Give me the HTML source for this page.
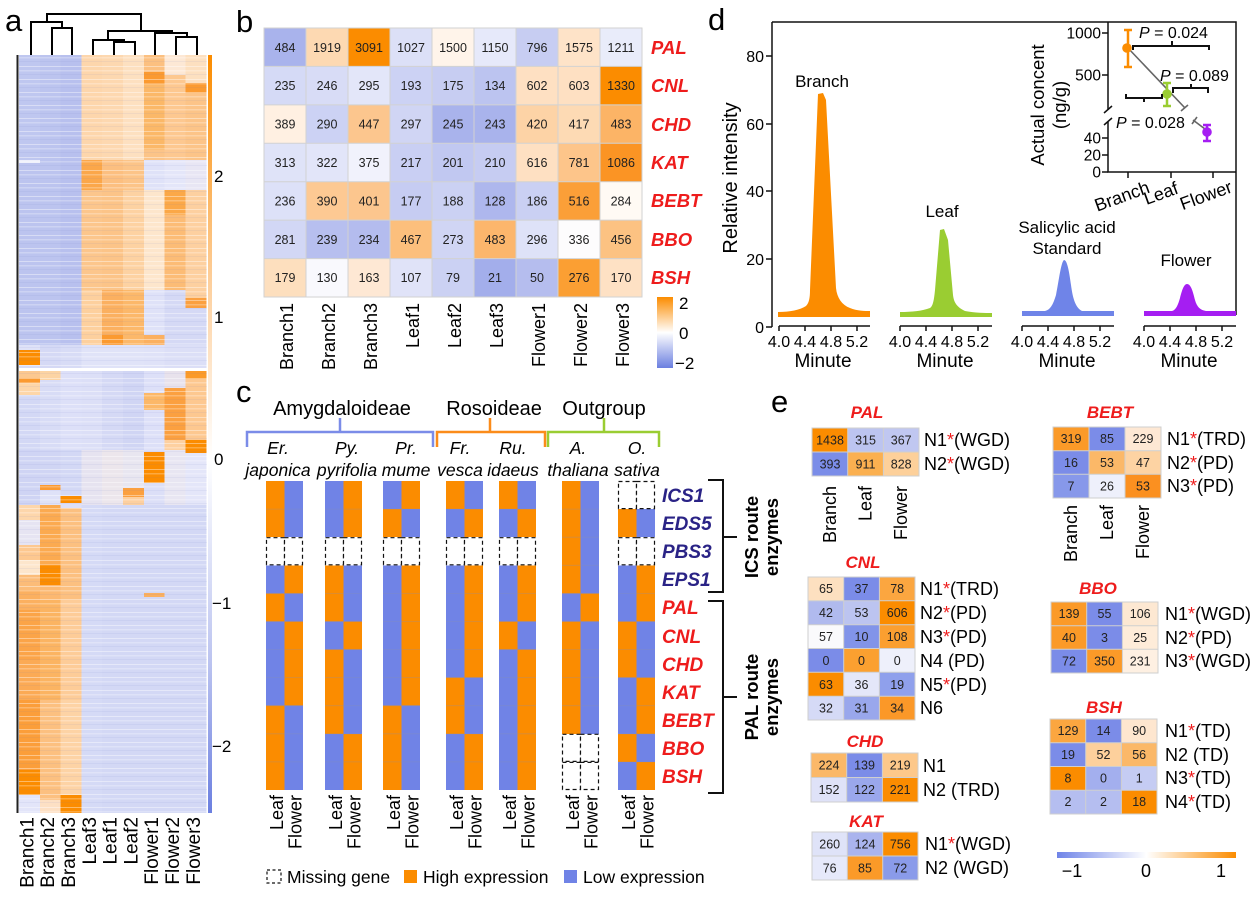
<!DOCTYPE html>
<html><head><meta charset="utf-8"><style>
html,body{margin:0;padding:0;background:#fff;}
svg{display:block;font-family:"Liberation Sans",Arial,sans-serif;}
</style></head><body>
<svg width="1256" height="902" viewBox="0 0 1256 902" xmlns="http://www.w3.org/2000/svg">
<defs>
<pattern id="tex" width="21" height="13" patternUnits="userSpaceOnUse">
<rect y="1" width="21" height="1" fill="#fff" opacity="0.4"/>
<rect y="5" width="21" height="1.5" fill="#fff" opacity="0.25"/>
<rect y="9" width="21" height="1" fill="#6070c0" opacity="0.08"/>
</pattern>
<linearGradient id="cbA" x1="0" y1="0" x2="0" y2="1">
<stop offset="0" stop-color="#fb8c00"/><stop offset="0.3" stop-color="#fdcf9c"/><stop offset="0.534" stop-color="#ffffff"/><stop offset="0.8" stop-color="#bcc4f0"/><stop offset="1" stop-color="#6b7fe0"/>
</linearGradient>
<linearGradient id="cbB" x1="0" y1="0" x2="0" y2="1">
<stop offset="0" stop-color="#fb8c00"/><stop offset="0.5" stop-color="#ffffff"/><stop offset="1" stop-color="#6b7fe0"/>
</linearGradient>
<linearGradient id="cbE" x1="0" y1="0" x2="1" y2="0">
<stop offset="0" stop-color="#6f84e8"/><stop offset="0.5" stop-color="#ffffff"/><stop offset="1" stop-color="#fb8c00"/>
</linearGradient>
</defs>

<!-- ================= PANEL A ================= -->
<text x="5" y="31" font-size="31">a</text>
<g stroke="#000" stroke-width="2" fill="none">
<path d="M47,22 V14 H141 V31"/>
<path d="M31,55 V22 H62 V28"/>
<path d="M52,55 V28 H72 V55"/>
<path d="M108,40 V31 H172 V33"/>
<path d="M93,55 V40 H124 V42"/>
<path d="M114,55 V42 H135 V55"/>
<path d="M155,55 V33 H187 V37"/>
<path d="M176,55 V37 H197 V55"/>
</g>
<g shape-rendering="crispEdges">
<!-- col0 -->
<g transform="translate(19,0)">
<rect y="55" width="20.9" height="105" fill="#bfc7f0"/><rect y="160" width="20.9" height="3" fill="#eef0fb"/><rect y="163" width="20.9" height="182" fill="#bcc4ef"/><rect y="345" width="20.9" height="5" fill="#dfe2f8"/><rect y="350" width="20.9" height="15" fill="#fb8c00"/><rect y="365" width="20.9" height="3" fill="#d8dcf6"/>
<rect y="371" width="20.9" height="7" fill="#fcc890"/><rect y="378" width="20.9" height="5" fill="#fb9a30"/><rect y="383" width="20.9" height="12" fill="#fdd6a8"/><rect y="395" width="20.9" height="55" fill="#d3d8f5"/><rect y="450" width="20.9" height="55" fill="#cfd4f4"/><rect y="505" width="20.9" height="15" fill="#fdd6ab"/><rect y="520" width="20.9" height="25" fill="#e6e4f2"/><rect y="545" width="20.9" height="15" fill="#fdc890"/><rect y="560" width="20.9" height="15" fill="#fde6cc"/><rect y="575" width="20.9" height="15" fill="#fcbc78"/><rect y="590" width="20.9" height="20" fill="#fbb060"/><rect y="610" width="20.9" height="50" fill="#fba448"/><rect y="660" width="20.9" height="40" fill="#fbaa55"/><rect y="700" width="20.9" height="70" fill="#fb9e3a"/><rect y="770" width="20.9" height="25" fill="#fb8c00"/><rect y="795" width="20.9" height="18" fill="#e3e5f9"/>
</g>
<!-- col1 -->
<g transform="translate(39.8,0)">
<rect y="55" width="20.9" height="290" fill="#bcc4ef"/><rect y="345" width="20.9" height="23" fill="#d5d9f5"/>
<rect y="371" width="20.9" height="9" fill="#fcd4a4"/><rect y="380" width="20.9" height="70" fill="#d8dcf6"/><rect y="450" width="20.9" height="35" fill="#d0d5f4"/><rect y="485" width="20.9" height="5" fill="#fb9a30"/><rect y="490" width="20.9" height="15" fill="#dfe2f8"/><rect y="505" width="20.9" height="60" fill="#fbaa50"/><rect y="565" width="20.9" height="20" fill="#fb8c00"/><rect y="585" width="20.9" height="15" fill="#fcb870"/><rect y="600" width="20.9" height="100" fill="#fbb462"/><rect y="700" width="20.9" height="100" fill="#fcc080"/><rect y="800" width="20.9" height="13" fill="#fde0c4"/>
</g>
<!-- col2 -->
<g transform="translate(60.6,0)">
<rect y="55" width="20.9" height="290" fill="#b8c0ee"/><rect y="345" width="20.9" height="23" fill="#d8dcf6"/>
<rect y="371" width="20.9" height="79" fill="#dde0f8"/><rect y="450" width="20.9" height="46" fill="#d3d8f5"/><rect y="496" width="20.9" height="7" fill="#fb8c00"/><rect y="503" width="20.9" height="5" fill="#dde0f8"/><rect y="508" width="20.9" height="92" fill="#fcc080"/><rect y="600" width="20.9" height="100" fill="#fdcc98"/><rect y="700" width="20.9" height="95" fill="#fdd3a5"/><rect y="795" width="20.9" height="18" fill="#fb8c00"/>
</g>
<!-- col3 -->
<g transform="translate(81.4,0)">
<rect y="55" width="20.9" height="105" fill="#fdd6ac"/><rect y="160" width="20.9" height="30" fill="#fba74a"/><rect y="190" width="20.9" height="100" fill="#fcc68c"/><rect y="290" width="20.9" height="55" fill="#fdd09e"/><rect y="345" width="20.9" height="23" fill="#e0e3f8"/>
<rect y="371" width="20.9" height="79" fill="#dcdff7"/><rect y="450" width="20.9" height="55" fill="#e6e3f0"/><rect y="505" width="20.9" height="308" fill="#d5daf6"/>
</g>
<!-- col4 -->
<g transform="translate(102.2,0)">
<rect y="55" width="20.9" height="105" fill="#fdd8b0"/><rect y="160" width="20.9" height="30" fill="#fcbf80"/><rect y="190" width="20.9" height="100" fill="#fcc488"/><rect y="290" width="20.9" height="45" fill="#fbb060"/><rect y="335" width="20.9" height="10" fill="#fb9a30"/><rect y="345" width="20.9" height="23" fill="#e0e3f8"/>
<rect y="371" width="20.9" height="79" fill="#d5d9f5"/><rect y="450" width="20.9" height="55" fill="#ece6ec"/><rect y="505" width="20.9" height="308" fill="#d3d8f5"/>
</g>
<!-- col5 -->
<g transform="translate(123,0)">
<rect y="55" width="20.9" height="105" fill="#fde0c0"/><rect y="160" width="20.9" height="30" fill="#fcc488"/><rect y="190" width="20.9" height="100" fill="#fdd2a2"/><rect y="290" width="20.9" height="55" fill="#fcb86a"/><rect y="345" width="20.9" height="23" fill="#e0e3f8"/>
<rect y="371" width="20.9" height="79" fill="#d0d5f4"/><rect y="450" width="20.9" height="38" fill="#e8e6f0"/><rect y="488" width="20.9" height="9" fill="#fba040"/><rect y="497" width="20.9" height="8" fill="#fdd0a0"/><rect y="505" width="20.9" height="308" fill="#d3d8f5"/>
</g>
<!-- col6 -->
<g transform="translate(143.8,0)">
<rect y="55" width="20.9" height="17" fill="#fcc080"/><rect y="72" width="20.9" height="12" fill="#fb9a30"/><rect y="84" width="20.9" height="66" fill="#fbb868"/><rect y="150" width="20.9" height="10" fill="#fcc488"/><rect y="160" width="20.9" height="30" fill="#dfe2f8"/><rect y="190" width="20.9" height="100" fill="#fde6cc"/><rect y="290" width="20.9" height="45" fill="#dfe2f8"/><rect y="335" width="20.9" height="10" fill="#fbb060"/><rect y="345" width="20.9" height="23" fill="#dfe2f8"/>
<rect y="371" width="20.9" height="22" fill="#dde0f8"/><rect y="393" width="20.9" height="17" fill="#fcb868"/><rect y="410" width="20.9" height="42" fill="#dde0f8"/><rect y="452" width="20.9" height="31" fill="#fb8c00"/><rect y="483" width="20.9" height="22" fill="#dcdff7"/><rect y="505" width="20.9" height="88" fill="#d3d8f5"/><rect y="593" width="20.9" height="4" fill="#fbb060"/><rect y="597" width="20.9" height="216" fill="#d3d8f5"/>
</g>
<!-- col7 -->
<g transform="translate(164.6,0)">
<rect y="55" width="20.9" height="20" fill="#fde8d5"/><rect y="75" width="20.9" height="85" fill="#fdc890"/><rect y="160" width="20.9" height="30" fill="#e4e6f9"/><rect y="190" width="20.9" height="25" fill="#fba848"/><rect y="215" width="20.9" height="75" fill="#fcbc76"/><rect y="290" width="20.9" height="55" fill="#d5d9f5"/><rect y="345" width="20.9" height="23" fill="#dcdff7"/>
<rect y="371" width="20.9" height="17" fill="#e8e2ec"/><rect y="388" width="20.9" height="52" fill="#fba040"/><rect y="440" width="20.9" height="10" fill="#fdd0a0"/><rect y="450" width="20.9" height="55" fill="#e8e6f2"/><rect y="505" width="20.9" height="308" fill="#d3d8f5"/>
</g>
<!-- col8 -->
<g transform="translate(185.4,0)">
<rect y="55" width="20.9" height="28" fill="#fde0c0"/><rect y="83" width="20.9" height="10" fill="#fb9a30"/><rect y="93" width="20.9" height="67" fill="#fcc488"/><rect y="160" width="20.9" height="30" fill="#e8e6f4"/><rect y="190" width="20.9" height="108" fill="#fdd0a0"/><rect y="298" width="20.9" height="10" fill="#fba040"/><rect y="308" width="20.9" height="37" fill="#d5d9f5"/><rect y="345" width="20.9" height="23" fill="#dcdff7"/>
<rect y="371" width="20.9" height="8" fill="#fb9a28"/><rect y="379" width="20.9" height="61" fill="#fdc890"/><rect y="440" width="20.9" height="13" fill="#fb8c00"/><rect y="453" width="20.9" height="52" fill="#e4e6f9"/><rect y="505" width="20.9" height="308" fill="#d3d8f5"/>
</g>
<rect x="19" y="55" width="188" height="313" fill="url(#tex)"/>
<rect x="19" y="371" width="188" height="442" fill="url(#tex)"/>
</g>
<line x1="17.5" y1="55" x2="17.5" y2="813" stroke="#222" stroke-width="2"/>
<rect x="208" y="55" width="4" height="758" fill="url(#cbA)"/>
<g font-size="17">
<text x="214" y="182">2</text><text x="214" y="323">1</text><text x="214" y="465">0</text><text x="212" y="609">−1</text><text x="212" y="752">−2</text>
</g>
<g font-size="19" text-anchor="end">
<text transform="translate(33.4,817) rotate(-90)">Branch1</text>
<text transform="translate(54.2,817) rotate(-90)">Branch2</text>
<text transform="translate(75,817) rotate(-90)">Branch3</text>
<text transform="translate(95.8,817) rotate(-90)">Leaf3</text>
<text transform="translate(116.6,817) rotate(-90)">Leaf1</text>
<text transform="translate(137.4,817) rotate(-90)">Leaf2</text>
<text transform="translate(158.2,817) rotate(-90)">Flower1</text>
<text transform="translate(179,817) rotate(-90)">Flower2</text>
<text transform="translate(199.8,817) rotate(-90)">Flower3</text>
</g>

<!-- ================= PANEL B ================= -->
<text x="236" y="32" font-size="31">b</text>
<g shape-rendering="crispEdges">
<!-- PAL row -->
<rect x="264" y="28" width="42" height="38.4" fill="#a9b3ec"/><rect x="306" y="28" width="42" height="38.4" fill="#fdd9b2"/><rect x="348" y="28" width="42" height="38.4" fill="#fb8c00"/><rect x="390" y="28" width="42" height="38.4" fill="#dce0f7"/><rect x="432" y="28" width="42" height="38.4" fill="#fff4ea"/><rect x="474" y="28" width="42" height="38.4" fill="#e6e9fa"/><rect x="516" y="28" width="42" height="38.4" fill="#c7cdf2"/><rect x="558" y="28" width="42" height="38.4" fill="#fee3c8"/><rect x="600" y="28" width="42" height="38.4" fill="#e9ecfa"/>
<!-- CNL -->
<rect x="264" y="66.4" width="42" height="38.5" fill="#d5daf6"/><rect x="306" y="66.4" width="42" height="38.5" fill="#d8dcf6"/><rect x="348" y="66.4" width="42" height="38.5" fill="#e3e6f9"/><rect x="390" y="66.4" width="42" height="38.5" fill="#ccd2f4"/><rect x="432" y="66.4" width="42" height="38.5" fill="#c7cdf2"/><rect x="474" y="66.4" width="42" height="38.5" fill="#bcc4f0"/><rect x="516" y="66.4" width="42" height="38.5" fill="#fee0c2"/><rect x="558" y="66.4" width="42" height="38.5" fill="#fee0c2"/><rect x="600" y="66.4" width="42" height="38.5" fill="#fb8c00"/>
<!-- CHD -->
<rect x="264" y="104.9" width="42" height="38.4" fill="#fff0e2"/><rect x="306" y="104.9" width="42" height="38.4" fill="#ccd2f4"/><rect x="348" y="104.9" width="42" height="38.4" fill="#fcc68e"/><rect x="390" y="104.9" width="42" height="38.4" fill="#d0d5f4"/><rect x="432" y="104.9" width="42" height="38.4" fill="#a9b3ec"/><rect x="474" y="104.9" width="42" height="38.4" fill="#a9b3ec"/><rect x="516" y="104.9" width="42" height="38.4" fill="#fdd3a6"/><rect x="558" y="104.9" width="42" height="38.4" fill="#fddab4"/><rect x="600" y="104.9" width="42" height="38.4" fill="#fcb466"/>
<!-- KAT -->
<rect x="264" y="143.3" width="42" height="38.4" fill="#dfe3f8"/><rect x="306" y="143.3" width="42" height="38.4" fill="#e2e5f9"/><rect x="348" y="143.3" width="42" height="38.4" fill="#f1f2fc"/><rect x="390" y="143.3" width="42" height="38.4" fill="#c9cff3"/><rect x="432" y="143.3" width="42" height="38.4" fill="#c1c8f1"/><rect x="474" y="143.3" width="42" height="38.4" fill="#c6ccf2"/><rect x="516" y="143.3" width="42" height="38.4" fill="#fee0c2"/><rect x="558" y="143.3" width="42" height="38.4" fill="#fdc58a"/><rect x="600" y="143.3" width="42" height="38.4" fill="#fb9424"/>
<!-- BEBT -->
<rect x="264" y="181.7" width="42" height="38.4" fill="#dde1f8"/><rect x="306" y="181.7" width="42" height="38.4" fill="#fdc993"/><rect x="348" y="181.7" width="42" height="38.4" fill="#fcc68e"/><rect x="390" y="181.7" width="42" height="38.4" fill="#c6ccf2"/><rect x="432" y="181.7" width="42" height="38.4" fill="#cbd1f3"/><rect x="474" y="181.7" width="42" height="38.4" fill="#aeb7ed"/><rect x="516" y="181.7" width="42" height="38.4" fill="#cad0f3"/><rect x="558" y="181.7" width="42" height="38.4" fill="#fb9f38"/><rect x="600" y="181.7" width="42" height="38.4" fill="#fffaf4"/>
<!-- BBO -->
<rect x="264" y="220.1" width="42" height="38.5" fill="#d2d7f5"/><rect x="306" y="220.1" width="42" height="38.5" fill="#b7bfef"/><rect x="348" y="220.1" width="42" height="38.5" fill="#b4bcee"/><rect x="390" y="220.1" width="42" height="38.5" fill="#fcbf7c"/><rect x="432" y="220.1" width="42" height="38.5" fill="#d0d5f4"/><rect x="474" y="220.1" width="42" height="38.5" fill="#fcb66c"/><rect x="516" y="220.1" width="42" height="38.5" fill="#dee2f8"/><rect x="558" y="220.1" width="42" height="38.5" fill="#fdfcfd"/><rect x="600" y="220.1" width="42" height="38.5" fill="#fcc282"/>
<!-- BSH -->
<rect x="264" y="258.6" width="42" height="38.4" fill="#fddfbe"/><rect x="306" y="258.6" width="42" height="38.4" fill="#f9f9fd"/><rect x="348" y="258.6" width="42" height="38.4" fill="#fee8d4"/><rect x="390" y="258.6" width="42" height="38.4" fill="#e0e3f8"/><rect x="432" y="258.6" width="42" height="38.4" fill="#cbd1f3"/><rect x="474" y="258.6" width="42" height="38.4" fill="#a3aeeb"/><rect x="516" y="258.6" width="42" height="38.4" fill="#b5bdee"/><rect x="558" y="258.6" width="42" height="38.4" fill="#fb9f33"/><rect x="600" y="258.6" width="42" height="38.4" fill="#fee1c4"/>
</g>
<g stroke="#d2d2d2" stroke-width="1" fill="none">
<rect x="264" y="28" width="378" height="269"/>
<path d="M306,28V297M348,28V297M390,28V297M432,28V297M474,28V297M516,28V297M558,28V297M600,28V297"/>
<path d="M264,66.4H642M264,104.9H642M264,143.3H642M264,181.7H642M264,220.1H642M264,258.6H642"/>
</g>
<g font-size="12.5" fill="#222" text-anchor="middle">
<text x="285" y="52">484</text><text x="327" y="52">1919</text><text x="369" y="52">3091</text><text x="411" y="52">1027</text><text x="453" y="52">1500</text><text x="495" y="52">1150</text><text x="537" y="52">796</text><text x="579" y="52">1575</text><text x="621" y="52">1211</text>
<text x="285" y="90">235</text><text x="327" y="90">246</text><text x="369" y="90">295</text><text x="411" y="90">193</text><text x="453" y="90">175</text><text x="495" y="90">134</text><text x="537" y="90">602</text><text x="579" y="90">603</text><text x="621" y="90">1330</text>
<text x="285" y="128.5">389</text><text x="327" y="128.5">290</text><text x="369" y="128.5">447</text><text x="411" y="128.5">297</text><text x="453" y="128.5">245</text><text x="495" y="128.5">243</text><text x="537" y="128.5">420</text><text x="579" y="128.5">417</text><text x="621" y="128.5">483</text>
<text x="285" y="167">313</text><text x="327" y="167">322</text><text x="369" y="167">375</text><text x="411" y="167">217</text><text x="453" y="167">201</text><text x="495" y="167">210</text><text x="537" y="167">616</text><text x="579" y="167">781</text><text x="621" y="167">1086</text>
<text x="285" y="205.5">236</text><text x="327" y="205.5">390</text><text x="369" y="205.5">401</text><text x="411" y="205.5">177</text><text x="453" y="205.5">188</text><text x="495" y="205.5">128</text><text x="537" y="205.5">186</text><text x="579" y="205.5">516</text><text x="621" y="205.5">284</text>
<text x="285" y="244">281</text><text x="327" y="244">239</text><text x="369" y="244">234</text><text x="411" y="244">467</text><text x="453" y="244">273</text><text x="495" y="244">483</text><text x="537" y="244">296</text><text x="579" y="244">336</text><text x="621" y="244">456</text>
<text x="285" y="282">179</text><text x="327" y="282">130</text><text x="369" y="282">163</text><text x="411" y="282">107</text><text x="453" y="282">79</text><text x="495" y="282">21</text><text x="537" y="282">50</text><text x="579" y="282">276</text><text x="621" y="282">170</text>
</g>
<g font-size="18.5" font-weight="bold" font-style="italic" fill="#ee1c1c">
<text x="651" y="54">PAL</text><text x="651" y="92">CNL</text><text x="651" y="131">CHD</text><text x="651" y="169">KAT</text><text x="651" y="207">BEBT</text><text x="651" y="246">BBO</text><text x="651" y="284">BSH</text>
</g>
<g font-size="18" text-anchor="end">
<text transform="translate(293,303) rotate(-90)">Branch1</text>
<text transform="translate(335,303) rotate(-90)">Branch2</text>
<text transform="translate(377,303) rotate(-90)">Branch3</text>
<text transform="translate(419,303) rotate(-90)">Leaf1</text>
<text transform="translate(461,303) rotate(-90)">Leaf2</text>
<text transform="translate(503,303) rotate(-90)">Leaf3</text>
<text transform="translate(545,303) rotate(-90)">Flower1</text>
<text transform="translate(587,303) rotate(-90)">Flower2</text>
<text transform="translate(629,303) rotate(-90)">Flower3</text>
</g>
<rect x="657" y="297" width="16" height="71" fill="url(#cbB)"/>
<g font-size="17"><text x="679" y="309">2</text><text x="679" y="339">0</text><text x="675" y="369">−2</text></g>

<!-- ================= PANEL C ================= -->
<text x="236" y="402" font-size="31">c</text>
<g font-size="20" text-anchor="middle">
<text x="342" y="415">Amygdaloideae</text><text x="494" y="415">Rosoideae</text><text x="604" y="415">Outgroup</text>
</g>
<g fill="none" stroke-width="2.5">
<path d="M247,447V432H433V447M340,432V418" stroke="#7b8ce8"/>
<path d="M437,447V432H545V447M490,432V418" stroke="#fb8c1a"/>
<path d="M548,447V432H659V447M604,432V418" stroke="#9acd32"/>
</g>
<g font-size="17.5" font-style="italic" text-anchor="middle">
<text x="278" y="454">Er.</text><text x="278" y="476">japonica</text>
<text x="347" y="454">Py.</text><text x="347" y="476">pyrifolia</text>
<text x="406" y="454">Pr.</text><text x="406" y="476">mume</text>
<text x="460" y="454">Fr.</text><text x="460" y="476">vesca</text>
<text x="513" y="454">Ru.</text><text x="513" y="476">idaeus</text>
<text x="578" y="454">A.</text><text x="578" y="476">thaliana</text>
<text x="637" y="454">O.</text><text x="637" y="476">sativa</text>
</g>
<g shape-rendering="crispEdges">
<!-- blue backgrounds -->
<rect x="266" y="481" width="37" height="56.2" fill="#7083e6"/><rect x="266" y="565.3" width="37" height="224.7" fill="#7083e6"/>
<rect x="325" y="481" width="37" height="56.2" fill="#7083e6"/><rect x="325" y="565.3" width="37" height="224.7" fill="#7083e6"/>
<rect x="383" y="481" width="37" height="56.2" fill="#7083e6"/><rect x="383" y="565.3" width="37" height="224.7" fill="#7083e6"/>
<rect x="446" y="481" width="37" height="56.2" fill="#7083e6"/><rect x="446" y="565.3" width="37" height="224.7" fill="#7083e6"/>
<rect x="499" y="481" width="37" height="56.2" fill="#7083e6"/><rect x="499" y="565.3" width="37" height="224.7" fill="#7083e6"/>
<rect x="562" y="481" width="37" height="252.8" fill="#7083e6"/>
<rect x="618" y="509.1" width="37" height="28.1" fill="#7083e6"/><rect x="618" y="565.3" width="37" height="224.7" fill="#7083e6"/>
<!-- orange cells -->
<g fill="#fb8c00">
<!-- Er -->
<rect x="266" y="481" width="18.5" height="56.2"/><rect x="284.5" y="565.3" width="18.5" height="28.1"/><rect x="266" y="593.4" width="18.5" height="28.1"/><rect x="284.5" y="621.5" width="18.5" height="84.2"/><rect x="266" y="705.7" width="18.5" height="84.3"/>
<!-- Py -->
<rect x="343.5" y="481" width="18.5" height="56.2"/><rect x="325" y="565.3" width="18.5" height="56.2"/><rect x="343.5" y="621.5" width="18.5" height="28"/><rect x="325" y="649.5" width="18.5" height="84.3"/><rect x="343.5" y="733.8" width="18.5" height="56.2"/>
<!-- Pr -->
<rect x="401.5" y="481" width="18.5" height="28.1"/><rect x="383" y="509.1" width="18.5" height="28.1"/><rect x="401.5" y="565.3" width="18.5" height="140.4"/><rect x="383" y="705.7" width="18.5" height="84.3"/>
<!-- Fr -->
<rect x="446" y="481" width="18.5" height="28.1"/><rect x="464.5" y="509.1" width="18.5" height="28.1"/><rect x="464.5" y="565.3" width="18.5" height="112.3"/><rect x="446" y="677.6" width="18.5" height="56.2"/><rect x="464.5" y="733.8" width="18.5" height="56.2"/>
<!-- Ru -->
<rect x="499" y="481" width="18.5" height="28.1"/><rect x="517.5" y="509.1" width="18.5" height="28.1"/><rect x="517.5" y="565.3" width="18.5" height="56.2"/><rect x="499" y="621.5" width="18.5" height="28"/><rect x="517.5" y="649.5" width="18.5" height="140.5"/>
<!-- A -->
<rect x="562" y="481" width="18.5" height="112.4"/><rect x="580.5" y="593.4" width="18.5" height="28.1"/><rect x="562" y="621.5" width="18.5" height="112.3"/>
<!-- O -->
<rect x="618" y="509.1" width="18.5" height="28.1"/><rect x="636.5" y="565.3" width="18.5" height="56.2"/><rect x="618" y="621.5" width="18.5" height="56.1"/><rect x="636.5" y="677.6" width="18.5" height="56.2"/><rect x="618" y="733.8" width="18.5" height="28.1"/><rect x="636.5" y="761.9" width="18.5" height="28.1"/>
</g>
</g>
<!-- faint row separators -->
<g stroke="#8a8fb0" stroke-width="0.8" opacity="0.35">
<path d="M266,509.1h37M266,593.4h37M266,621.5h37M266,649.5h37M266,677.6h37M266,705.7h37M266,733.8h37M266,761.9h37"/>
<path d="M325,509.1h37M325,593.4h37M325,621.5h37M325,649.5h37M325,677.6h37M325,705.7h37M325,733.8h37M325,761.9h37"/>
<path d="M383,509.1h37M383,593.4h37M383,621.5h37M383,649.5h37M383,677.6h37M383,705.7h37M383,733.8h37M383,761.9h37"/>
<path d="M446,509.1h37M446,593.4h37M446,621.5h37M446,649.5h37M446,677.6h37M446,705.7h37M446,733.8h37M446,761.9h37"/>
<path d="M499,509.1h37M499,593.4h37M499,621.5h37M499,649.5h37M499,677.6h37M499,705.7h37M499,733.8h37M499,761.9h37"/>
<path d="M562,509.1h37M562,537.2h37M562,565.3h37M562,593.4h37M562,621.5h37M562,649.5h37M562,677.6h37M562,705.7h37"/>
<path d="M618,593.4h37M618,621.5h37M618,649.5h37M618,677.6h37M618,705.7h37M618,733.8h37M618,761.9h37"/>
</g>
<!-- missing cells -->
<g fill="#fff" stroke="#111" stroke-width="1.2" stroke-dasharray="4,3">
<rect x="266.5" y="537.7" width="18" height="27.1"/><rect x="284.5" y="537.7" width="18" height="27.1"/>
<rect x="325.5" y="537.7" width="18" height="27.1"/><rect x="343.5" y="537.7" width="18" height="27.1"/>
<rect x="383.5" y="537.7" width="18" height="27.1"/><rect x="401.5" y="537.7" width="18" height="27.1"/>
<rect x="446.5" y="537.7" width="18" height="27.1"/><rect x="464.5" y="537.7" width="18" height="27.1"/>
<rect x="499.5" y="537.7" width="18" height="27.1"/><rect x="517.5" y="537.7" width="18" height="27.1"/>
<rect x="618.5" y="537.7" width="18" height="27.1"/><rect x="636.5" y="537.7" width="18" height="27.1"/>
<rect x="618.5" y="481.5" width="18" height="27.1"/><rect x="636.5" y="481.5" width="18" height="27.1"/>
<rect x="562.5" y="734.3" width="18" height="27.1"/><rect x="580.5" y="734.3" width="18" height="27.1"/>
<rect x="562.5" y="762.4" width="18" height="27.1"/><rect x="580.5" y="762.4" width="18" height="27.1"/>
</g>
<g font-size="19" font-weight="bold" font-style="italic">
<g fill="#2a2386">
<text x="662" y="502">ICS1</text><text x="662" y="530">EDS5</text><text x="662" y="558">PBS3</text><text x="662" y="586">EPS1</text>
</g>
<g fill="#ee1c1c">
<text x="662" y="614">PAL</text><text x="662" y="643">CNL</text><text x="662" y="671">CHD</text><text x="662" y="699">KAT</text><text x="662" y="727">BEBT</text><text x="662" y="755">BBO</text><text x="662" y="783">BSH</text>
</g>
</g>
<g fill="none" stroke="#111" stroke-width="2">
<path d="M708,480H723V592H708M723,537H737"/>
<path d="M708,601H723V793H708M723,697H737"/>
</g>
<g font-size="18.5" font-weight="bold" text-anchor="middle">
<text transform="translate(758,537) rotate(-90)">ICS route</text>
<text transform="translate(778,537) rotate(-90)">enzymes</text>
<text transform="translate(758,697) rotate(-90)">PAL route</text>
<text transform="translate(778,697) rotate(-90)">enzymes</text>
</g>
<g font-size="18" text-anchor="end">
<text transform="translate(283,795) rotate(-90)">Leaf</text><text transform="translate(301.5,795) rotate(-90)">Flower</text>
<text transform="translate(342,795) rotate(-90)">Leaf</text><text transform="translate(360.5,795) rotate(-90)">Flower</text>
<text transform="translate(400,795) rotate(-90)">Leaf</text><text transform="translate(418.5,795) rotate(-90)">Flower</text>
<text transform="translate(463,795) rotate(-90)">Leaf</text><text transform="translate(481.5,795) rotate(-90)">Flower</text>
<text transform="translate(516,795) rotate(-90)">Leaf</text><text transform="translate(534.5,795) rotate(-90)">Flower</text>
<text transform="translate(579,795) rotate(-90)">Leaf</text><text transform="translate(597.5,795) rotate(-90)">Flower</text>
<text transform="translate(635,795) rotate(-90)">Leaf</text><text transform="translate(653.5,795) rotate(-90)">Flower</text>
</g>
<rect x="267" y="870" width="14" height="13" fill="none" stroke="#111" stroke-width="1.2" stroke-dasharray="3,2.5"/>
<rect x="404" y="870" width="13" height="13" fill="#fb8c00"/>
<rect x="564" y="870" width="13" height="13" fill="#7083e6"/>
<g font-size="17.5">
<text x="287" y="883">Missing gene</text><text x="423" y="883">High expression</text><text x="583" y="883">Low expression</text>
</g>

<!-- ================= PANEL D ================= -->
<text x="708" y="30" font-size="31">d</text>
<g stroke="#111" stroke-width="1.5" fill="none">
<path d="M772,22V327"/>
<path d="M772,22H1236V315"/>
<path d="M766,56H772M766,124H772M766,191H772M766,259H772M766,327H772"/>
<path d="M779,326H870M779,326V331M805,326V331M831,326V331M857,326V331"/>
<path d="M900,326H992M900,326V331M926,326V331M952,326V331M978,326V331"/>
<path d="M1022,326H1114M1022,326V331M1048,326V331M1074,326V331M1100,326V331"/>
<path d="M1144,326H1236M1144,326V331M1170,326V331M1196,326V331M1222,326V331"/>
</g>
<g font-size="16" text-anchor="end">
<text x="764" y="62">80</text><text x="764" y="130">60</text><text x="764" y="197">40</text><text x="764" y="265">20</text><text x="764" y="333">0</text>
</g>
<text transform="translate(737,178) rotate(-90)" font-size="20" text-anchor="middle">Relative intensity</text>
<g font-size="16" text-anchor="middle">
<text x="779" y="347">4.0</text><text x="805" y="347">4.4</text><text x="831" y="347">4.8</text><text x="857" y="347">5.2</text>
<text x="900" y="347">4.0</text><text x="926" y="347">4.4</text><text x="952" y="347">4.8</text><text x="978" y="347">5.2</text>
<text x="1022" y="347">4.0</text><text x="1048" y="347">4.4</text><text x="1074" y="347">4.8</text><text x="1100" y="347">5.2</text>
<text x="1144" y="347">4.0</text><text x="1170" y="347">4.4</text><text x="1196" y="347">4.8</text><text x="1222" y="347">5.2</text>
</g>
<g font-size="19" text-anchor="middle">
<text x="823" y="367">Minute</text><text x="945" y="367">Minute</text><text x="1067" y="367">Minute</text><text x="1189" y="367">Minute</text>
</g>
<!-- peaks -->
<path d="M778,317 L778,312 C790,312 800,310 806,306 C809,303 810,298 810,290 L818,94 L823,93 L826,100 L836,288 C837,298 842,305 850,308 C857,311 865,311 870,311 L870,317 Z" fill="#fb8c00"/>
<path d="M900,317 L900,312 C912,312 922,311 930,308 C933,306 934,300 935,290 L940,230 L944,229 L948,240 L953,295 C954,303 957,307 965,311 C975,313 985,313 992,313 L992,317 Z" fill="#9acd32"/>
<path d="M1022,316 L1022,311 L1045,311 C1050,310 1053,305 1056,295 C1059,280 1061,262 1064,260 C1067,260 1069,270 1071,285 C1073,300 1076,308 1082,311 L1114,311 L1114,316 Z" fill="#6f84e8"/>
<path d="M1144,316 L1144,311 L1172,311 C1176,310 1178,305 1180,298 C1182,290 1184,284 1187,284 C1191,284 1193,292 1195,300 C1197,307 1200,310 1206,311 L1236,311 L1236,316 Z" fill="#a51ef2"/>
<g font-size="17" text-anchor="middle">
<text x="822" y="87">Branch</text><text x="942" y="217">Leaf</text>
<text x="1067" y="233">Salicylic acid</text><text x="1067" y="254">Standard</text>
<text x="1186" y="266">Flower</text>
</g>
<!-- inset -->
<g stroke="#111" stroke-width="1.5" fill="none">
<path d="M1108,22V110M1108,122V172H1236"/>
<path d="M1104,113L1112,106M1104,125L1112,118"/>
<path d="M1102,33H1108M1102,75H1108M1102,138H1108M1102,155H1108M1102,172H1108"/>
<path d="M1128,172V178M1171,172V178M1213,172V178"/>
</g>
<g font-size="15.5" text-anchor="end">
<text x="1101" y="38.5">1000</text><text x="1101" y="80.5">500</text><text x="1101" y="143.5">40</text><text x="1101" y="160.5">20</text><text x="1101" y="177.5">0</text>
</g>
<text transform="translate(1044,105) rotate(-90)" font-size="18.5" text-anchor="middle">Actual concent</text>
<text transform="translate(1066,105) rotate(-90)" font-size="18.5" text-anchor="middle">(ng/g)</text>
<g font-size="18" text-anchor="middle">
<text transform="translate(1124,202) rotate(-20)">Branch</text>
<text transform="translate(1163,199) rotate(-20)">Leaf</text>
<text transform="translate(1208,201) rotate(-20)">Flower</text>
</g>
<g stroke="#666" stroke-width="1.6" fill="none">
<path d="M1127,47L1185,108M1181,111L1188,105"/>
<path d="M1193,120L1205,129M1192,124L1197,117"/>
</g>
<g stroke-width="2.5" fill="none">
<path d="M1128,30V67M1124,30H1132M1124,67H1132" stroke="#fb8c00"/>
<path d="M1167,83V106M1163,83H1171M1163,106H1171" stroke="#9acd32"/>
<path d="M1207,125V141M1203,125H1211M1203,141H1211" stroke="#a51ef2"/>
</g>
<circle cx="1127" cy="48" r="4.8" fill="#fb8c00"/>
<circle cx="1167" cy="94" r="4.8" fill="#9acd32"/>
<circle cx="1207" cy="132" r="4.8" fill="#a51ef2"/>
<g stroke="#111" stroke-width="2" fill="none">
<path d="M1133,50V46H1209V50M1172,46V41"/>
<path d="M1173,93V88H1208V93M1191,88V84"/>
<path d="M1126,94V98H1162V94M1144,98V102"/>
</g>
<g font-size="16">
<text x="1139" y="38"><tspan font-style="italic">P</tspan> = 0.024</text>
<text x="1160" y="81"><tspan font-style="italic">P</tspan> = 0.089</text>
<text x="1116" y="128"><tspan font-style="italic">P</tspan> = 0.028</text>
</g>

<!-- ================= PANEL E ================= -->
<text x="771" y="412" font-size="31">e</text>
<g font-size="17" font-weight="bold" font-style="italic" fill="#ee1c1c" text-anchor="middle">
<text x="867" y="418">PAL</text><text x="863" y="568">CNL</text><text x="865" y="747">CHD</text><text x="866" y="827">KAT</text>
<text x="1110" y="418">BEBT</text><text x="1098" y="594">BBO</text><text x="1104" y="713">BSH</text>
</g>
<g shape-rendering="crispEdges">
<!-- PAL -->
<rect x="812" y="428" width="35.7" height="24" fill="#fb8c00"/><rect x="847.7" y="428" width="35.7" height="24" fill="#bcc4f0"/><rect x="883.4" y="428" width="35.6" height="24" fill="#c0c7f1"/>
<rect x="812" y="452" width="35.7" height="24" fill="#7b8de8"/><rect x="847.7" y="452" width="35.7" height="24" fill="#fbb050"/><rect x="883.4" y="452" width="35.6" height="24" fill="#fdd09a"/>
<!-- CNL -->
<rect x="808" y="577" width="35.7" height="23.8" fill="#fde0c0"/><rect x="843.7" y="577" width="35.7" height="23.8" fill="#7b8ce8"/><rect x="879.4" y="577" width="35.6" height="23.8" fill="#fba640"/>
<rect x="808" y="600.8" width="35.7" height="23.9" fill="#b0baee"/><rect x="843.7" y="600.8" width="35.7" height="23.9" fill="#bcc4f0"/><rect x="879.4" y="600.8" width="35.6" height="23.9" fill="#fb8c00"/>
<rect x="808" y="624.7" width="35.7" height="23.8" fill="#fafafc"/><rect x="843.7" y="624.7" width="35.7" height="23.8" fill="#8294e9"/><rect x="879.4" y="624.7" width="35.6" height="23.8" fill="#fb9f30"/>
<rect x="808" y="648.5" width="35.7" height="23.8" fill="#7b8ce8"/><rect x="843.7" y="648.5" width="35.7" height="23.8" fill="#fba030"/><rect x="879.4" y="648.5" width="35.6" height="23.8" fill="#eef0fb"/>
<rect x="808" y="672.3" width="35.7" height="23.9" fill="#fb8c00"/><rect x="843.7" y="672.3" width="35.7" height="23.9" fill="#e4e7f9"/><rect x="879.4" y="672.3" width="35.6" height="23.9" fill="#8fa0ec"/>
<rect x="808" y="696.2" width="35.7" height="23.8" fill="#d5daf6"/><rect x="843.7" y="696.2" width="35.7" height="23.8" fill="#99a7ec"/><rect x="879.4" y="696.2" width="35.6" height="23.8" fill="#fb9828"/>
<!-- CHD -->
<rect x="811" y="753" width="35.7" height="24.5" fill="#fbb868"/><rect x="846.7" y="753" width="35.7" height="24.5" fill="#7b8ce8"/><rect x="882.4" y="753" width="35.6" height="24.5" fill="#fdc88a"/>
<rect x="811" y="777.5" width="35.7" height="24.5" fill="#dfe2f8"/><rect x="846.7" y="777.5" width="35.7" height="24.5" fill="#9aa7ec"/><rect x="882.4" y="777.5" width="35.6" height="24.5" fill="#fb8c00"/>
<!-- KAT -->
<rect x="812" y="832" width="35.3" height="24" fill="#dfe3f8"/><rect x="847.3" y="832" width="35.4" height="24" fill="#aab4ee"/><rect x="882.7" y="832" width="35.3" height="24" fill="#fb8c00"/>
<rect x="812" y="856" width="35.3" height="24" fill="#e6e9fa"/><rect x="847.3" y="856" width="35.4" height="24" fill="#fb9a28"/><rect x="882.7" y="856" width="35.3" height="24" fill="#8a9bea"/>
<!-- BEBT -->
<rect x="1053" y="427" width="36" height="23.7" fill="#fb9a28"/><rect x="1089" y="427" width="36" height="23.7" fill="#7b8ce8"/><rect x="1125" y="427" width="36" height="23.7" fill="#fee8d4"/>
<rect x="1053" y="450.7" width="36" height="23.6" fill="#7b8ce8"/><rect x="1089" y="450.7" width="36" height="23.6" fill="#fbb868"/><rect x="1125" y="450.7" width="36" height="23.6" fill="#fdd3a3"/>
<rect x="1053" y="474.3" width="36" height="23.7" fill="#8798ea"/><rect x="1089" y="474.3" width="36" height="23.7" fill="#eef0fb"/><rect x="1125" y="474.3" width="36" height="23.7" fill="#fb9020"/>
<!-- BBO -->
<rect x="1051" y="602" width="35.7" height="23.7" fill="#fb9a28"/><rect x="1086.7" y="602" width="35.7" height="23.7" fill="#7b8ce8"/><rect x="1122.4" y="602" width="35.6" height="23.7" fill="#fde8d2"/>
<rect x="1051" y="625.7" width="35.7" height="23.6" fill="#fb9a28"/><rect x="1086.7" y="625.7" width="35.7" height="23.6" fill="#7b8ce8"/><rect x="1122.4" y="625.7" width="35.6" height="23.6" fill="#feecd9"/>
<rect x="1051" y="649.3" width="35.7" height="23.7" fill="#7b8ce8"/><rect x="1086.7" y="649.3" width="35.7" height="23.7" fill="#fb9a28"/><rect x="1122.4" y="649.3" width="35.6" height="23.7" fill="#fef0e2"/>
<!-- BSH -->
<rect x="1050" y="719" width="35.7" height="23.75" fill="#fba640"/><rect x="1085.7" y="719" width="35.7" height="23.75" fill="#7b8ce8"/><rect x="1121.4" y="719" width="35.6" height="23.75" fill="#fee6cf"/>
<rect x="1050" y="742.75" width="35.7" height="23.75" fill="#7b8ce8"/><rect x="1085.7" y="742.75" width="35.7" height="23.75" fill="#fdd09c"/><rect x="1121.4" y="742.75" width="35.6" height="23.75" fill="#fbb868"/>
<rect x="1050" y="766.5" width="35.7" height="23.75" fill="#fb8c00"/><rect x="1085.7" y="766.5" width="35.7" height="23.75" fill="#a3afee"/><rect x="1121.4" y="766.5" width="35.6" height="23.75" fill="#c5ccf3"/>
<rect x="1050" y="790.25" width="35.7" height="23.75" fill="#b5bef0"/><rect x="1085.7" y="790.25" width="35.7" height="23.75" fill="#b5bef0"/><rect x="1121.4" y="790.25" width="35.6" height="23.75" fill="#fb8c00"/>
</g>
<g stroke="#cfcfcf" stroke-width="1" fill="none">
<rect x="812" y="428" width="107" height="48"/><path d="M847.7,428V476M883.4,428V476M812,452H919"/>
<rect x="808" y="577" width="107" height="143"/><path d="M843.7,577V720M879.4,577V720M808,600.8H915M808,624.7H915M808,648.5H915M808,672.3H915M808,696.2H915"/>
<rect x="811" y="753" width="107" height="49"/><path d="M846.7,753V802M882.4,753V802M811,777.5H918"/>
<rect x="812" y="832" width="106" height="48"/><path d="M847.3,832V880M882.7,832V880M812,856H918"/>
<rect x="1053" y="427" width="108" height="71"/><path d="M1089,427V498M1125,427V498M1053,450.7H1161M1053,474.3H1161"/>
<rect x="1051" y="602" width="107" height="71"/><path d="M1086.7,602V673M1122.4,602V673M1051,625.7H1158M1051,649.3H1158"/>
<rect x="1050" y="719" width="107" height="95"/><path d="M1085.7,719V814M1121.4,719V814M1050,742.75H1157M1050,766.5H1157M1050,790.25H1157"/>
</g>
<g font-size="12.5" fill="#222" text-anchor="middle">
<text x="830" y="444.5">1438</text><text x="865.5" y="444.5">315</text><text x="901.2" y="444.5">367</text>
<text x="830" y="468.5">393</text><text x="865.5" y="468.5">911</text><text x="901.2" y="468.5">828</text>
<text x="826" y="593">65</text><text x="861.5" y="593">37</text><text x="897.2" y="593">78</text>
<text x="826" y="617">42</text><text x="861.5" y="617">53</text><text x="897.2" y="617">606</text>
<text x="826" y="641">57</text><text x="861.5" y="641">10</text><text x="897.2" y="641">108</text>
<text x="826" y="665">0</text><text x="861.5" y="665">0</text><text x="897.2" y="665">0</text>
<text x="826" y="689">63</text><text x="861.5" y="689">36</text><text x="897.2" y="689">19</text>
<text x="826" y="712.5">32</text><text x="861.5" y="712.5">31</text><text x="897.2" y="712.5">34</text>
<text x="829" y="769.5">224</text><text x="864.5" y="769.5">139</text><text x="900.2" y="769.5">219</text>
<text x="829" y="794">152</text><text x="864.5" y="794">122</text><text x="900.2" y="794">221</text>
<text x="829.7" y="848.5">260</text><text x="865" y="848.5">124</text><text x="900.3" y="848.5">756</text>
<text x="829.7" y="872.5">76</text><text x="865" y="872.5">85</text><text x="900.3" y="872.5">72</text>
<text x="1071" y="443">319</text><text x="1107" y="443">85</text><text x="1143" y="443">229</text>
<text x="1071" y="467">16</text><text x="1107" y="467">53</text><text x="1143" y="467">47</text>
<text x="1071" y="490.5">7</text><text x="1107" y="490.5">26</text><text x="1143" y="490.5">53</text>
<text x="1069" y="618">139</text><text x="1104.5" y="618">55</text><text x="1140.2" y="618">106</text>
<text x="1069" y="642">40</text><text x="1104.5" y="642">3</text><text x="1140.2" y="642">25</text>
<text x="1069" y="665.5">72</text><text x="1104.5" y="665.5">350</text><text x="1140.2" y="665.5">231</text>
<text x="1068" y="735">129</text><text x="1103.5" y="735">14</text><text x="1139.2" y="735">90</text>
<text x="1068" y="759">19</text><text x="1103.5" y="759">52</text><text x="1139.2" y="759">56</text>
<text x="1068" y="782.5">8</text><text x="1103.5" y="782.5">0</text><text x="1139.2" y="782.5">1</text>
<text x="1068" y="806">2</text><text x="1103.5" y="806">2</text><text x="1139.2" y="806">18</text>
</g>
<g font-size="18">
<text x="924" y="446">N1<tspan fill="#ee1c1c">*</tspan>(WGD)</text>
<text x="924" y="470">N2<tspan fill="#ee1c1c">*</tspan>(WGD)</text>
<text x="920" y="595">N1<tspan fill="#ee1c1c">*</tspan>(TRD)</text>
<text x="920" y="619">N2<tspan fill="#ee1c1c">*</tspan>(PD)</text>
<text x="920" y="643">N3<tspan fill="#ee1c1c">*</tspan>(PD)</text>
<text x="920" y="667">N4 (PD)</text>
<text x="920" y="691">N5<tspan fill="#ee1c1c">*</tspan>(PD)</text>
<text x="920" y="714">N6</text>
<text x="923" y="772">N1</text>
<text x="923" y="796">N2 (TRD)</text>
<text x="925" y="850">N1<tspan fill="#ee1c1c">*</tspan>(WGD)</text>
<text x="925" y="874">N2 (WGD)</text>
<text x="1167" y="445">N1<tspan fill="#ee1c1c">*</tspan>(TRD)</text>
<text x="1167" y="469">N2<tspan fill="#ee1c1c">*</tspan>(PD)</text>
<text x="1167" y="492">N3<tspan fill="#ee1c1c">*</tspan>(PD)</text>
<text x="1165" y="620">N1<tspan fill="#ee1c1c">*</tspan>(WGD)</text>
<text x="1165" y="644">N2<tspan fill="#ee1c1c">*</tspan>(PD)</text>
<text x="1165" y="667">N3<tspan fill="#ee1c1c">*</tspan>(WGD)</text>
<text x="1165" y="737">N1<tspan fill="#ee1c1c">*</tspan>(TD)</text>
<text x="1165" y="761">N2 (TD)</text>
<text x="1165" y="784">N3<tspan fill="#ee1c1c">*</tspan>(TD)</text>
<text x="1165" y="808">N4<tspan fill="#ee1c1c">*</tspan>(TD)</text>
</g>
<g font-size="18" text-anchor="end">
<text transform="translate(836,486) rotate(-90)">Branch</text>
<text transform="translate(871.5,486) rotate(-90)">Leaf</text>
<text transform="translate(907,486) rotate(-90)">Flower</text>
<text transform="translate(1077,505) rotate(-90)">Branch</text>
<text transform="translate(1113,505) rotate(-90)">Leaf</text>
<text transform="translate(1149,505) rotate(-90)">Flower</text>
</g>
<rect x="1057" y="852" width="179" height="6" fill="url(#cbE)"/>
<g font-size="18" text-anchor="middle">
<text x="1072" y="877">−1</text><text x="1146" y="877">0</text><text x="1221" y="877">1</text>
</g>
</svg>
</body></html>
